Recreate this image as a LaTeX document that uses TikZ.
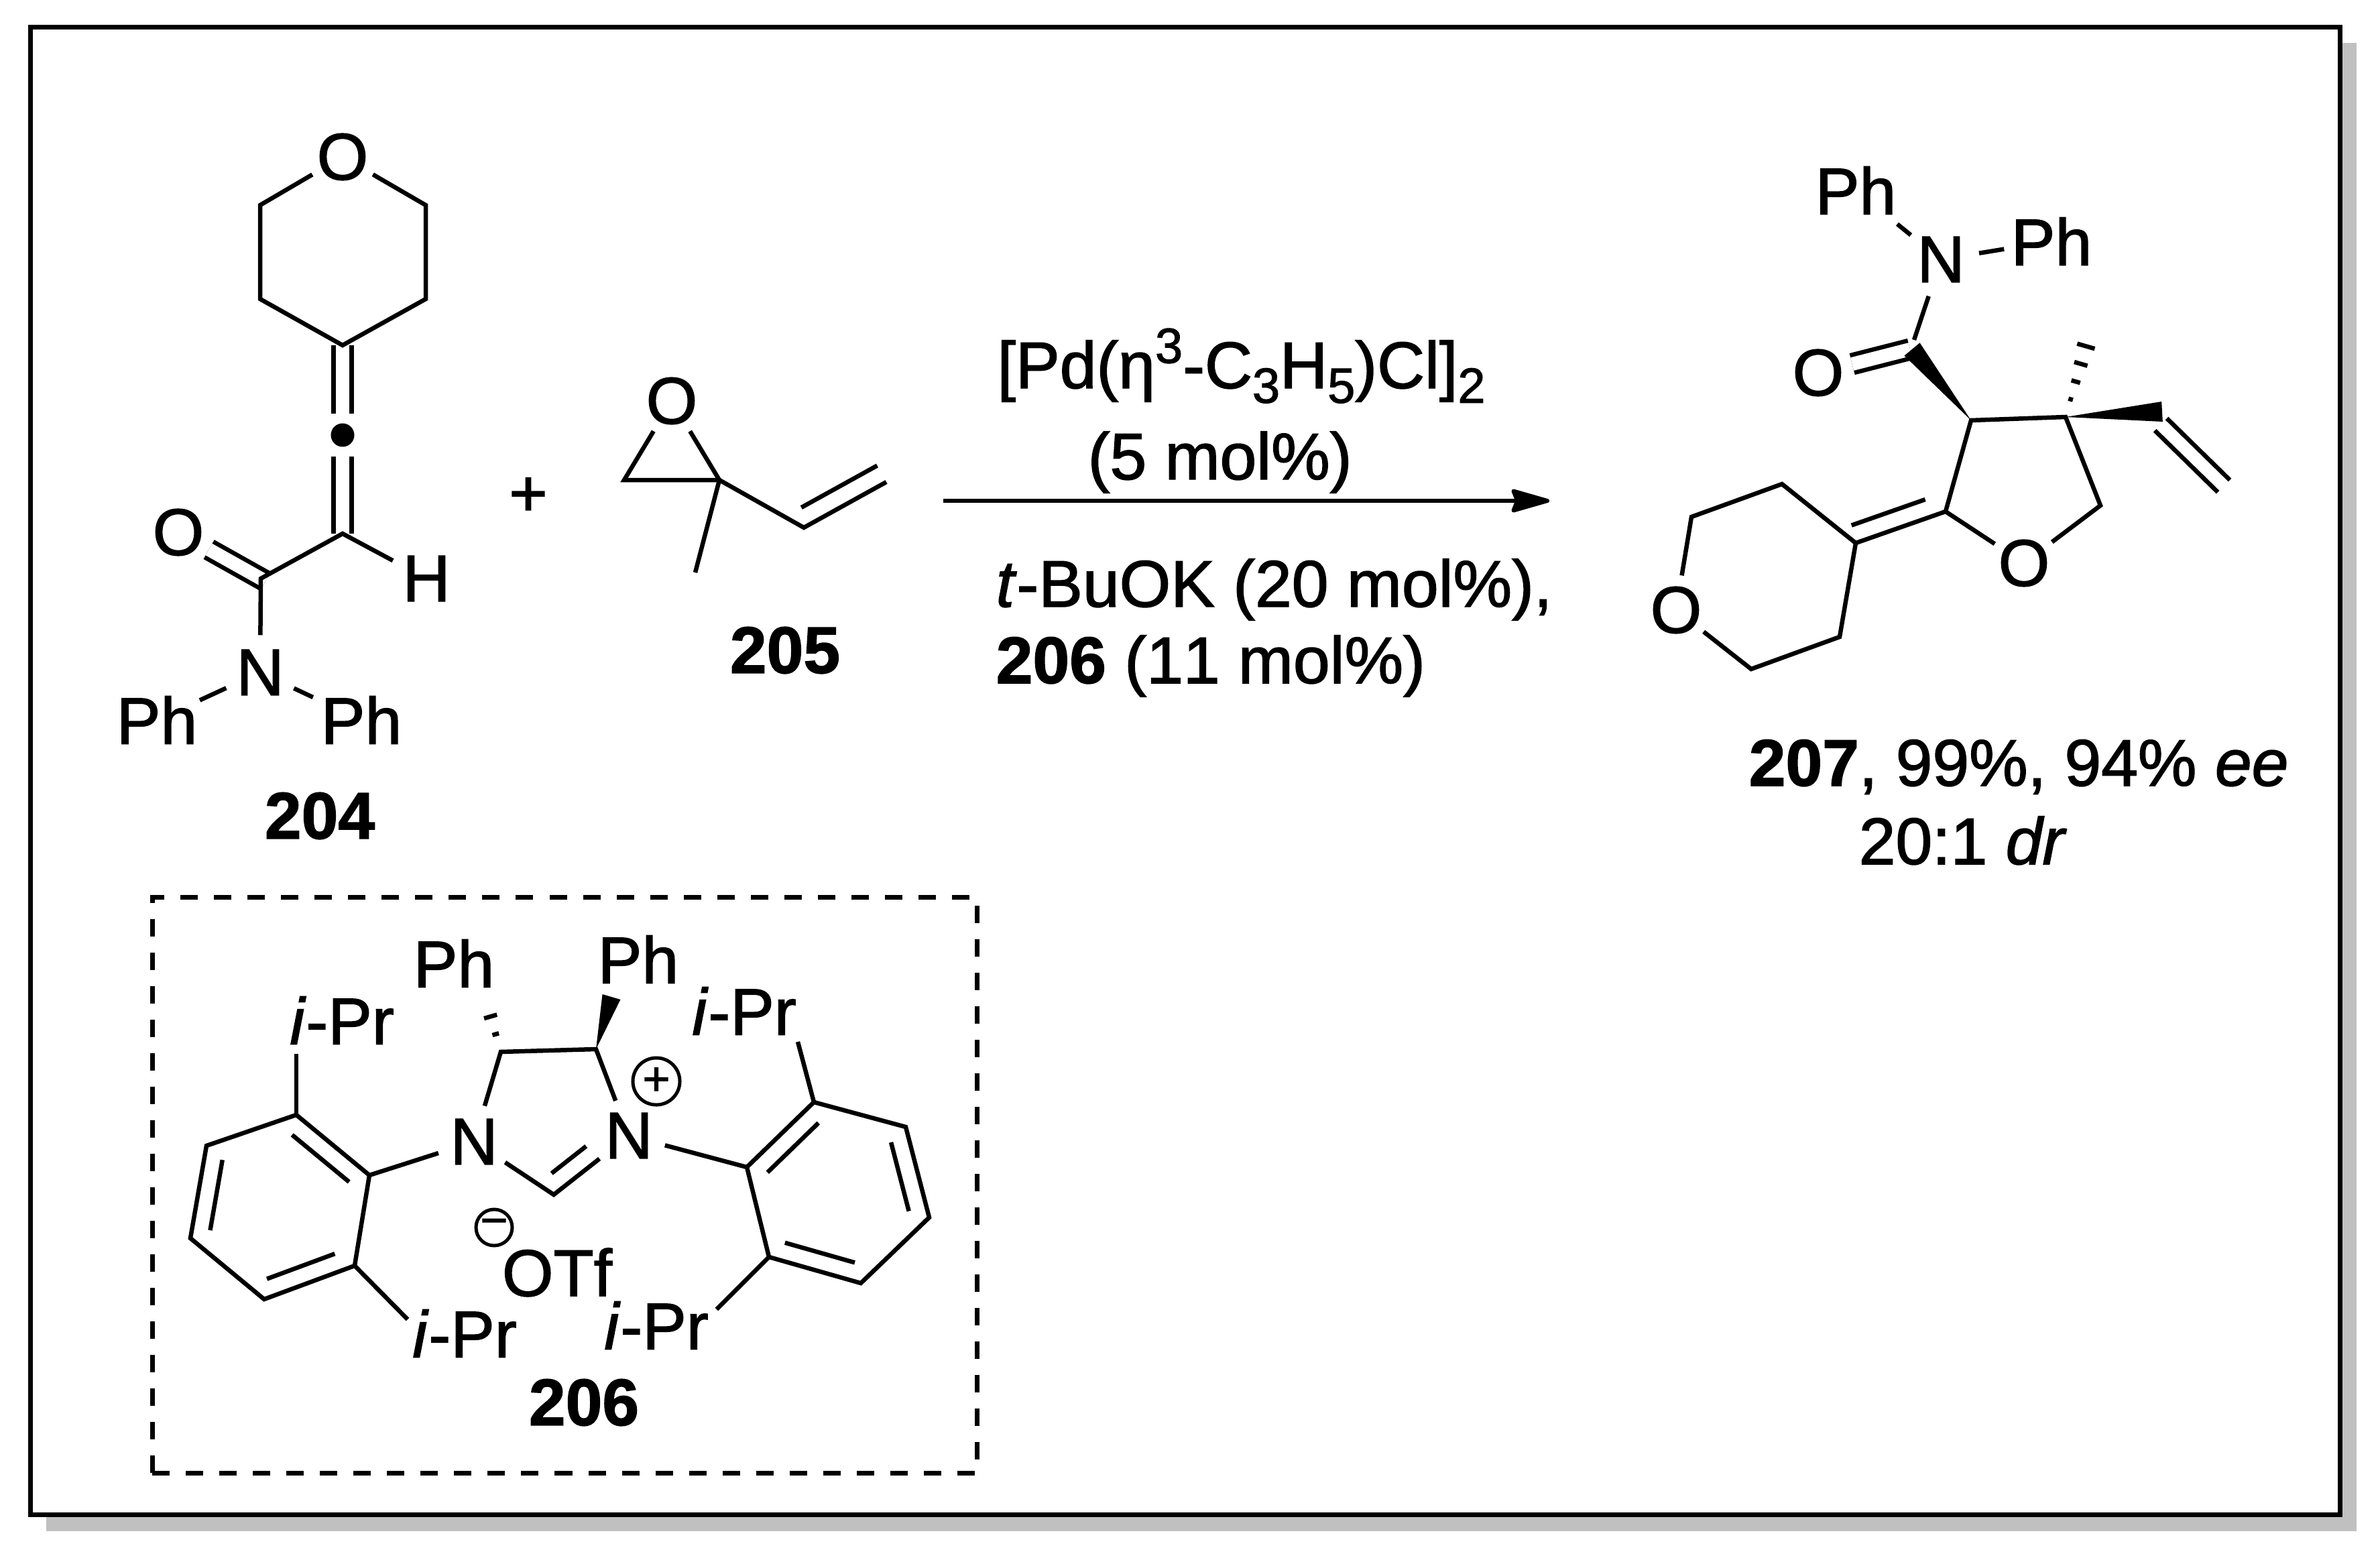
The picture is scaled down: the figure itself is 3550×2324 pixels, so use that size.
\documentclass[tikz,border=0pt]{standalone}
\usepackage{fontspec}
\setmainfont[Kerning=Off, FakeBold=1.5]{Liberation Sans}
\usetikzlibrary{calc,arrows.meta}

\newcommand{\chemfont}{\fontsize{28}{33}\selectfont}
\newcommand{\subfont}{\fontsize{21}{24}\selectfont}
\newcommand{\lowidx}[1]{\raisebox{-6.2pt}{\subfont #1}}
\newcommand{\upidx}[1]{\raisebox{10.7pt}{\subfont #1}}

% inner line of a double bond: from, to, start fraction, end fraction, offset to the left
\newcommand{\inbond}[5]{\draw[bond] ($(#1)!#3!(#2) + (#1)!#5!90:(#2) - (#1)$) -- ($(#1)!#4!(#2) + (#1)!#5!90:(#2) - (#1)$);}
\newcommand{\wedgebond}[3]{\fill ($(#1)$) -- ($(#2)!#3!90:(#1)$) -- ($(#2)!#3!-90:(#1)$) -- cycle;}
\newcommand{\hashbond}[4]{\foreach \i in {1,...,#3}{
        \pgfmathsetmacro{\frc}{\i/#3}
        \pgfmathsetmacro{\wdt}{#4*\frc}
        \draw[hashline] ($(#1)!\frc!(#2)!\wdt cm!90:(#2)$) -- ($(#1)!\frc!(#2)!\wdt cm!-90:(#2)$);}}

\tikzset{
    bond/.style = {line width=0.065cm, line join=miter},
    dblbond/.style = {line width=0.065cm, double, double distance=0.2cm},
    hashline/.style = {line width=0.065cm},
    atom/.style = {circle, inner sep=0pt, minimum size=#1, font=\chemfont},
    atom/.default = 1cm,
    txt/.style = {inner sep=0pt, font=\chemfont},
    txtl/.style = {inner sep=0pt, font=\chemfont, anchor=base west},
    charge/.style = {circle, draw, line width=0.05cm, inner sep=0pt, minimum size=#1, font=\fontsize{20}{20}\selectfont},
}

\begin{document}
\begin{tikzpicture}[x=0.01cm, y=-0.01cm]
    \useasboundingbox (0,0) rectangle (3550,2324);

    % frame
    \fill[fill={rgb,255:red,192;green,192;blue,192}] (69,64) rectangle (3515,2284);
    \draw[line width=0.07cm, fill=white] (45.5,40.5) rectangle (3490.5,2259.5);

    % 204
    \node[atom] (pO) at (511,234) {O};
    \coordinate (pa) at (388,306);
    \coordinate (pb) at (388,446);
    \coordinate (pc) at (511,515);
    \coordinate (pd) at (635,446);
    \coordinate (pe) at (635,306);
    \node[circle, fill, inner sep=0pt, minimum size=0.35cm, outer sep=0.14cm] (dot) at (511,649) {};
    \coordinate (ch) at (511,796);
    \coordinate (co) at (389,863);
    \node[atom] (ox) at (266,794) {O};
    \node[atom=1.12cm] (hh) at (636,863) {H};
    \node[atom=1.1cm] (nx) at (388,1003) {N};
    \node[atom=1.32cm] (phl) at (234,1074) {Ph};
    \node[atom=1.58cm] (phr) at (539,1074) {Ph};
    \draw[dblbond] (pc) -- (dot);
    \draw[dblbond] (dot) -- (ch);
    \draw[dblbond, shorten >=-0.08cm] (ox) -- (co);
    \draw[bond] (pO) -- (pa) -- (pb) -- (pc) -- (pd) -- (pe) -- (pO);
    \draw[bond] (nx) -- (co) -- (ch) -- (hh);
    \draw[bond] (nx) -- (phl);
    \draw[bond] (nx) -- (phr);
    \node[txt] (lb204) at (477,1217) {\textbf{204}};

    \node[txt] (plus) at (788,741) {+};

    % 205
    \node[atom=1.04cm] (eO) at (1002,598) {O};
    \coordinate (ea) at (931,716);
    \coordinate (eb) at (1073,716);
    \coordinate (ec) at (1037,854);
    \coordinate (ed) at (1199,787);
    \coordinate (ee) at (1322,719);
    \draw[bond] (eO) -- (ea) -- (eb) -- (eO);
    \draw[bond] (eb) -- (ec);
    \draw[bond] (eb) -- (ed) -- (ee);
    \inbond{ed}{ee}{0.08}{1}{0.28cm}
    \node[txt] (lb205) at (1171,970) {\textbf{205}};

    % arrow and conditions
    \coordinate (arra) at (1407,747);
    \coordinate (arrb) at (2311,747);
    \draw[line width=0.06cm, -{Stealth[length=0.66cm, width=0.37cm, inset=0.07cm, round]}] (arra) -- (arrb);
    \node[txtl] (cond1) at (1487,579) {[Pd(η\upidx{3}-C\lowidx{3}H\lowidx{5})Cl]\lowidx{2}};
    \node[txtl] (cond2) at (1622,715) {(5 mol\%)};
    \node[txtl] (cond3) at (1485,905) {\textit{t}-BuOK (20 mol\%),};
    \node[txtl] (cond4) at (1485,1019) {\textbf{206} (11 mol\%)};

    % 207
    \node[atom=1.14cm] (nn) at (2895,387) {N};
    \node[atom=1.58cm] (pha) at (2768,284) {Ph};
    \node[atom=1.42cm] (phb) at (3060,360) {Ph};
    \coordinate (cc) at (2855,507);
    \coordinate (cob) at (2849,521);
    \node[atom] (oa) at (2712,556) {O};
    \coordinate (c3) at (2940,627);
    \coordinate (c4) at (3081,622);
    \coordinate (c5) at (3133,754);
    \node[atom] (ob) at (3019,840) {O};
    \coordinate (c2) at (2902,763);
    \coordinate (ra) at (2768,810);
    \coordinate (rb) at (2658,722);
    \coordinate (rc) at (2523,771);
    \node[atom] (rO) at (2500,910) {O};
    \coordinate (rd) at (2612,998);
    \coordinate (re) at (2744,950);
    \coordinate (va) at (3232,624);
    \coordinate (vb) at (3326,716);
    \coordinate (me) at (3119,490);
    \coordinate (vw) at (3225,614);
    \draw[dblbond] (oa) -- (cob);
    \draw[bond] (nn) -- (pha);
    \draw[bond] (nn) -- (phb);
    \draw[bond] (nn) -- (cc);
    \wedgebond{c3}{2852,521}{0.15cm}
    \draw[bond] (c2) -- (c3) -- (c4) -- (c5) -- (ob) -- (c2);
    \draw[bond] (c2) -- (ra) -- (rb) -- (rc) -- (rO) -- (rd) -- (re) -- (ra);
    \inbond{ra}{c2}{0.02}{0.84}{0.27cm}
    \wedgebond{c4}{vw}{0.15cm}
    \draw[bond] (va) -- (vb);
    \inbond{vb}{va}{0}{1}{0.255cm}
    \hashbond{c4}{me}{5}{0.17}
    \node[txtl] (lb207) at (2608,1172) {\textbf{207}, 99\%, 94\% \textit{ee}};
    \node[txtl] (lbdr) at (2772,1289) {20:1 \textit{dr}};

    % 206
    \node[draw, line width=0.07cm, dash pattern=on 0.26cm off 0.24cm, minimum width=12.3cm, minimum height=8.58cm, inner sep=0pt] (catbox) at (842.5,1768) {};
    \node[atom=1.1cm] (na) at (707,1703) {N};
    \node[atom=1.1cm] (nb) at (938,1694) {N};
    \coordinate (ia) at (747,1569);
    \coordinate (ib) at (889,1565);
    \coordinate (ic) at (826,1782);
    \node[atom=0.9cm] (pa6) at (677,1437) {Ph};
    \node[atom=0.9cm] (pb6) at (952,1431) {Ph};
    \node[charge=0.7cm] (qp) at (979,1613) {+};
    \node[charge=0.54cm] (qm) at (737,1831) {−};
    \node[txt] (otf) at (831,1898) {OTf};
    \coordinate (la) at (551,1753);
    \coordinate (lb) at (442,1663);
    \coordinate (lc) at (308,1709);
    \coordinate (ld) at (284,1847);
    \coordinate (le) at (394,1938);
    \coordinate (lf) at (529,1888);
    \coordinate (ma) at (1114,1741);
    \coordinate (mb) at (1147,1875);
    \coordinate (mc) at (1284,1914);
    \coordinate (md) at (1386,1816);
    \coordinate (mf) at (1351,1681);
    \coordinate (mg) at (1214,1644);
    \node[txt] (ipa) at (510,1522) {\textit{i}-Pr};
    \node[txt] (ipb) at (693,1989) {\textit{i}-Pr};
    \node[txt] (ipc) at (1110,1508) {\textit{i}-Pr};
    \node[txt] (ipd) at (979,1977) {\textit{i}-Pr};
    \coordinate (ipae) at (442,1572);
    \coordinate (ipbe) at (608,1968);
    \coordinate (ipce) at (1190,1554);
    \coordinate (ipde) at (1069,1953);
    \draw[bond] (na) -- (ia) -- (ib) -- (nb);
    \draw[bond] (na) -- (ic) -- (nb);
    \inbond{ic}{nb}{0.12}{0.58}{0.27cm}
    \draw[bond] (na) -- (la);
    \draw[bond] (nb) -- (ma);
    \draw[bond] (la) -- (lb) -- (lc) -- (ld) -- (le) -- (lf) -- (la);
    \inbond{la}{lb}{0.12}{0.9}{0.27cm}
    \inbond{lc}{ld}{0.12}{0.88}{0.27cm}
    \inbond{le}{lf}{0.1}{0.85}{0.27cm}
    \draw[bond] (ma) -- (mb) -- (mc) -- (md) -- (mf) -- (mg) -- (ma);
    \inbond{mg}{ma}{0.12}{0.88}{0.27cm}
    \inbond{mb}{mc}{0.12}{0.88}{0.27cm}
    \inbond{md}{mf}{0.12}{0.88}{0.27cm}
    \draw[bond] (lb) -- (ipae);
    \draw[bond] (lf) -- (ipbe);
    \draw[bond] (mg) -- (ipce);
    \draw[bond] (mb) -- (ipde);
    \wedgebond{ib}{912,1487}{0.14cm}
    \hashbond{ia}{724,1490}{3}{0.15}
    \node[txt] (lb206) at (871,2092) {\textbf{206}};
\end{tikzpicture}
\end{document}
